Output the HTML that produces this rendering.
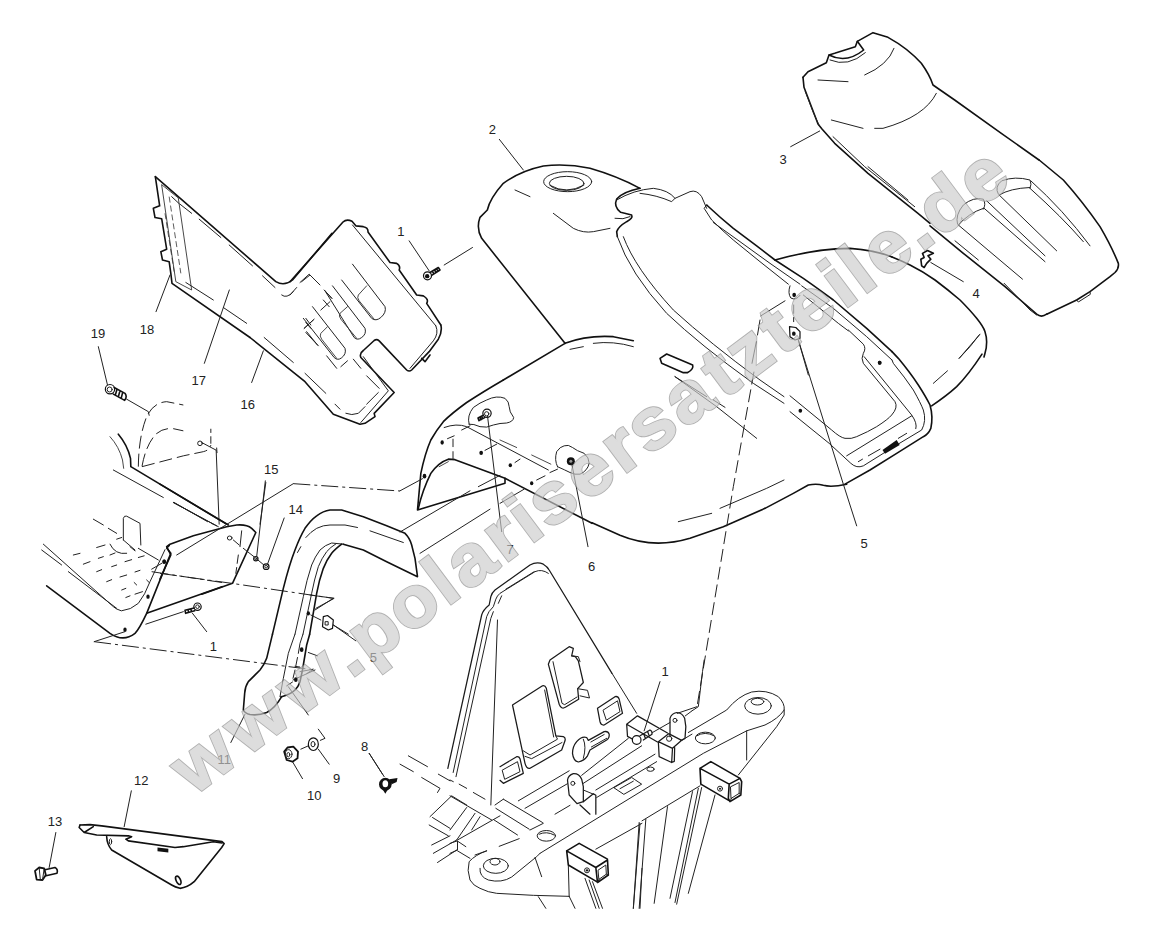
<!DOCTYPE html>
<html><head><meta charset="utf-8"><title>Polaris parts diagram</title>
<style>
html,body{margin:0;padding:0;background:#fff;}
svg{display:block}
.wm{font-family:"Liberation Sans",sans-serif;font-weight:bold;font-size:72px;}
.lb{font-family:"Liberation Sans",sans-serif;font-size:13px;fill:#222;stroke:none}
.k{fill:none;stroke:#111;stroke-width:1.6;stroke-linecap:round;stroke-linejoin:round;vector-effect:non-scaling-stroke}
.n{fill:none;stroke:#222;stroke-width:1;stroke-linecap:round;stroke-linejoin:round;vector-effect:non-scaling-stroke}
.m{fill:none;stroke:#1a1a1a;stroke-width:1.25;stroke-linecap:round;stroke-linejoin:round;vector-effect:non-scaling-stroke}
.t{fill:none;stroke:#333;stroke-width:0.9;stroke-linecap:round;stroke-linejoin:round;vector-effect:non-scaling-stroke}
.d{fill:none;stroke:#222;stroke-width:1;stroke-dasharray:13 5;vector-effect:non-scaling-stroke}
.dd{fill:none;stroke:#222;stroke-width:1;stroke-dasharray:17 4 3 4;vector-effect:non-scaling-stroke}
.ds{fill:none;stroke:#333;stroke-width:0.8;stroke-dasharray:6 3;vector-effect:non-scaling-stroke}
.f{fill:#111;stroke:none}
.w{fill:#fff;stroke:#111;stroke-width:1.2;stroke-linejoin:round;vector-effect:non-scaling-stroke}
</style></head>
<body>
<svg width="1152" height="930" viewBox="0 0 1152 930">
<rect width="1152" height="930" fill="#fff"/>
<!--PARTS-->
<!--A panel 16/17/18 : 6x @140,165-->
<g transform="translate(140 165) scale(0.166667)">
<path class="k" d="M92,70 L118,245 L80,260 L90,315 L130,322 L160,505 L125,520 L135,570 L175,580 L185,650 L192,710 L660,1035"/>
<path class="k" d="M92,70 L815,700 Q865,730 915,690 L1152,410"/>
<path class="t" d="M130,120 L215,700 L310,750 L230,200 Z"/>
<path class="ds" d="M175,190 L245,650"/>
<path class="ds" d="M150,290 L205,640"/>
<path class="n" d="M190,190 L235,232 M240,235 L310,290 M355,325 L485,435 M535,480 L675,605 M735,665 L810,735 M850,780 Q880,805 920,760 M960,705 L1015,655 L1075,715 M1105,750 L1152,800"/>
<path class="n" d="M275,705 L440,810 M500,855 L640,950 M180,660 L96,880 M536,750 L386,1190"/>
</g>

<!--A2 panel right part : 6x @290,200-->
<g transform="translate(290 200) scale(0.166667)">
<path class="k" d="M0,490 L318,132 Q340,112 372,128 L395,155 L440,160 Q470,165 468,192 L600,375 L640,380 Q665,395 655,420 L760,570 L800,575 Q835,595 820,620 L905,750"/>
<path class="n" d="M375,150 L875,755"/>
<path class="n" d="M375,385 L570,640 Q580,675 545,705 Q515,730 490,710 L310,480"/>
<path class="t" d="M460,515 L410,570 Q400,585 415,605 L505,715"/>
<path class="n" d="M255,515 L450,770 Q460,805 430,825 Q405,845 385,825 L210,545"/>
<path class="t" d="M345,640 L300,680 Q290,695 305,715 L400,830"/>
<path class="n" d="M0,570 L40,525 M70,490 L120,450 L180,510 M210,545 L250,590 M185,660 L240,610 M200,600 L235,640 M85,770 L140,720 M95,735 L125,770 M100,790 L165,870"/>
<!-- screw 1 -->
<circle class="w" cx="825" cy="455" r="24"/><circle class="f" cx="823" cy="457" r="13"/>
<path class="k" d="M840,435 L890,405 L900,420 L850,452 M855,428 L863,443 M868,420 L876,435 M880,413 L888,428"/>
<path class="n" d="M715,245 L835,425 M925,390 L1095,285"/>
</g>
<!--A3 panel bottom : 6x @250,300-->
<g transform="translate(250 300) scale(0.166667)">
<path class="k" d="M0,225 L330,490 L500,685 L660,745 L690,740 L750,700 L745,680 L865,555 L665,345 Q655,320 680,303 L745,243 Q760,232 775,245 L940,420 Q955,432 970,420 L1075,310 L1130,235 Q1155,190 1145,150"/>
<path class="n" d="M1115,155 Q1135,200 1100,245 L960,410 M680,340 L830,545 L665,735"/>
<path class="k" d="M1030,350 L1050,370 L1080,330"/>
<path class="n" d="M375,40 L570,290 Q580,325 548,348 Q525,365 505,345 L320,110"/>
<path class="t" d="M465,160 L425,200 Q415,215 430,235 L520,350"/>
<path class="n" d="M335,195 L410,275 M460,335 L520,410 M545,400 L585,365 M620,355 L665,410 M700,455 L775,530 M770,555 L700,625 M690,640 L650,680 Q610,695 575,680 M510,625 L540,655 M85,225 L260,375 M330,440 L455,560 M325,170 L385,115 M335,110 L365,150"/>
<path class="n" d="M80,305 L10,495"/>
</g>
<!--B part 2 top : 3x @400,100-->
<g transform="translate(400 100) scale(0.333333)">
<path class="k" d="M495,730 L245,415 Q228,385 240,352 L262,330 Q270,295 310,250 Q360,213 430,198 Q500,190 570,205 Q650,228 720,265"/>
<path class="k" d="M720,265 Q670,275 650,297 Q640,320 662,337 L695,345 Q700,355 680,365 Q655,380 650,395 L652,410"/>
<path class="n" d="M650,300 Q700,270 760,265 Q805,270 825,295 L870,275 Q890,268 905,290 L920,325"/>
<path class="n" d="M720,280 Q770,285 815,305 L825,295"/>
<ellipse class="n" cx="503" cy="245" rx="72" ry="30"/>
<ellipse class="n" cx="500" cy="250" rx="52" ry="21"/>
<path class="n" d="M450,256 Q500,285 552,255"/>
<path class="n" d="M345,270 L390,290 M460,340 L520,385 Q550,400 580,395 L630,385 M645,355 Q670,360 690,350"/>
<path class="n" d="M652,410 Q690,520 800,640 Q900,735 1060,850 L1152,910"/>
<path class="n" d="M670,410 Q705,505 820,630 Q930,730 1080,840 L1152,890"/>
<path class="k" d="M495,730 Q560,705 640,710 L700,722"/>
<path class="n" d="M510,748 L550,740 M580,730 Q640,722 700,740"/>
<path class="k" d="M780,775 L800,762 L878,795 Q882,808 862,818 L850,818 L785,790 Z"/>
<path class="n" d="M825,830 L920,890 M940,900 L975,922"/>
<path class="n" d="M298,118 L370,210"/>
</g>
<!--C1 hood front-left : 6x @400,380-->
<g transform="translate(400 380) scale(0.166667)">
<path class="k" d="M620,0 Q500,70 400,135 Q310,200 260,250 Q215,305 185,360 Q150,440 125,560 L105,780 L630,620 L630,590"/>
<path class="k" d="M110,770 Q135,660 185,560 Q230,495 290,475 L330,478 L630,590 L1152,860"/>
<path class="n" d="M265,285 Q340,258 400,280 L890,540"/>
<path class="t" d="M600,360 L700,405 M790,450 L905,505 M235,520 L290,490"/>
<path class="n" d="M415,265 Q400,215 440,165 Q480,135 520,120 Q580,90 630,110 Q655,130 655,160 Q655,190 682,225 Q680,250 640,258 Q600,258 560,270 Q520,290 480,280 Q440,262 415,265 Z"/>
<circle class="w" cx="522" cy="200" r="25"/><circle class="n" cx="520" cy="203" r="13"/>
<path class="k" d="M500,212 L468,228 L474,244 L508,226 M480,224 L486,238 M490,218 L496,232"/>
<path class="n" d="M945,520 Q925,480 940,430 Q960,400 985,395 Q1010,385 1035,405 Q1060,425 1105,440 Q1135,465 1135,500 Q1125,545 1080,565 Q1050,570 1020,555 Q990,540 945,520 Z"/>
<circle class="f" cx="1025" cy="487" r="24"/><circle cx="1025" cy="487" r="9" fill="#999"/>
<ellipse class="f" cx="253" cy="375" rx="10" ry="13"/><ellipse class="f" cx="487" cy="437" rx="11" ry="13"/><ellipse class="f" cx="662" cy="512" rx="10" ry="12"/><ellipse class="f" cx="790" cy="620" rx="10" ry="12"/><ellipse class="f" cx="147" cy="577" rx="11" ry="14"/>
<path class="n" d="M285,352 L325,335 M370,300 L420,275 M510,422 L580,385 M690,495 L720,475 M820,600 L870,575 M900,555 L945,535 M318,355 L318,400 M318,430 L318,475"/>
<path class="n" d="M525,215 L610,910 M1030,500 L1128,1000"/>
<path class="n" d="M135,592 L0,665 M600,572 L470,640 M420,665 L0,912 M745,655 L600,740 M540,775 L120,1040"/>
</g>
<!--C2 hood front rest : 3x @400,300-->
<g transform="translate(400 300) scale(0.333333)">
<path class="k" d="M495,130 L310,240"/>
<path class="k" d="M576,668 L660,706 Q760,748 870,715 L970,680 L1095,625"/>
<path class="n" d="M825,230 L950,320 L1070,415 M835,665 L935,640 M960,625 L1100,565 L1152,540"/>
<path class="d" d="M1062,215 L1000,560 L891,1220"/><path class="n" d="M891,1220 L832,1240"/>
</g>
<!--D1 seat top : 3x @768,0-->
<g transform="translate(768 0) scale(0.333333)">
<path class="k" d="M105,232 L120,215 L175,188 L183,165 L200,160 L262,140 L268,124 L315,98 L360,112 Q420,145 460,190 Q485,225 495,255 L560,300 L700,400 L813,480"/>
<path class="k" d="M183,165 Q235,192 287,150 L268,124"/>
<path class="n" d="M186,180 Q240,203 292,158"/>
<path class="k" d="M105,232 L108,262 L150,372 L162,387 L200,430 L300,520 L450,640 L486,670"/>
<path class="n" d="M112,275 L135,335 L155,380 M195,410 L290,500 L440,620 M300,500 L420,600"/>
<path class="n" d="M150,240 L240,245 M290,225 Q360,195 378,145 M190,360 L285,385 M320,385 L345,385 Q470,350 505,280"/>
<path class="n" d="M68,440 L155,393"/>
</g>
<!--D2 seat bottom : 6x @930,160-->
<g transform="translate(930 160) scale(0.166667)">
<path class="k" d="M655,0 L800,120 Q920,255 1020,400 Q1090,520 1130,620 Q1135,650 1110,675 L1080,700 L960,790 L880,840 L700,925"/>
<path class="n" d="M880,840 L890,852 L962,806 L960,790"/>
<path class="k" d="M0,395 L200,560 L450,760 L640,925 Q668,948 700,925"/>
<path class="n" d="M150,485 L290,600 M445,740 L600,900 L640,930"/>
<path class="n" d="M165,385 Q150,330 200,270 Q260,220 320,235 Q338,265 320,295 M170,390 Q230,320 320,290"/>
<path class="n" d="M170,390 L555,715 M325,290 L690,610 M340,245 L690,575"/>
<path class="n" d="M410,205 Q385,160 430,125 Q510,95 600,120 Q612,145 600,170 M415,210 Q480,170 600,165"/>
<path class="n" d="M415,210 L760,545 M605,125 Q800,300 960,515 M600,170 Q790,340 920,490"/>
</g>
<!--E1 rear fender left : 6x @700,220-->
<g transform="translate(700 220) scale(0.166667)">
<path class="k" d="M450,240 L620,350 Q720,420 800,480 L1000,650 L1152,790"/>
<path class="n" d="M540,395 Q525,440 545,468 Q575,485 600,452"/>
<ellipse class="f" cx="565" cy="450" rx="11" ry="13"/>
<path class="k" d="M450,240 Q700,170 900,170 Q1050,180 1152,222"/>
<path class="n" d="M610,395 L800,530 L1000,700 L1152,840"/>
<path class="n" d="M620,450 L830,620 L890,665"/>
<ellipse class="f" cx="1078" cy="857" rx="11" ry="12"/>
<path class="n" d="M510,485 L365,575 M360,600 L345,690 M338,730 L312,860 M562,510 L562,560 M562,585 L562,610"/>
<path class="w" d="M537,640 L575,645 L600,670 L600,710 L570,720 L540,700 Z"/>
<ellipse class="f" cx="563" cy="682" rx="11" ry="13"/>
<path class="n" d="M590,720 L650,930"/>
</g>
<!--E2 rear fender bottom : 6x @790,330-->
<g transform="translate(790 330) scale(0.166667)">
<path class="k" d="M612,130 L650,170 Q720,255 770,330 Q815,400 840,450 Q860,520 845,590 Q830,625 800,640 L640,740 L480,840 L330,925"/>
<path class="n" d="M612,180 L620,200 Q690,285 740,360 Q785,440 800,480 Q820,545 790,600 L640,690 L440,815 Q400,832 365,800 L235,680 L0,490"/>
<path class="n" d="M0,395 L250,600 Q300,645 330,650 Q370,655 400,640 Q470,610 520,580 Q590,535 610,510 Q650,465 630,430 L440,200 Q425,170 440,140 Q458,110 440,85 L350,0"/>
<path class="n" d="M445,160 L730,510 Q765,560 755,592 M730,515 L340,755"/>
<path class="n" d="M410,790 L435,775 M470,755 L540,715 M650,650 L700,620"/>
<path class="f" d="M555,720 L640,660 L658,690 L570,742 Z"/>
<ellipse class="f" cx="538" cy="197" rx="11" ry="12"/><ellipse class="f" cx="62" cy="485" rx="11" ry="12"/>
<path class="n" d="M50,60 L320,925"/>
<path class="k" d="M850,455 Q940,395 1000,340 Q1070,270 1152,145"/>
<path class="n" d="M860,320 L945,245 M1015,170 L1080,100 L1135,30"/>
</g>
<!--E3 rear fender top-right : 6x @860,215-->
<g transform="translate(860 215) scale(0.166667)">
<path class="k" d="M192,252 Q250,275 300,300 Q380,340 450,390 Q530,450 600,510 Q660,570 700,620 Q740,670 750,700 Q770,760 750,830 L744,852"/>
<path class="k" d="M370,305 L365,265 L385,255 L375,230 L405,213 L440,230 L408,245 L425,265 L400,290 L385,315 Z"/>
<path class="n" d="M425,285 L620,400 M595,860 L720,715"/>
</g>
<!--E4 fender/hood bottom junction : 6x @690,400-->
<g transform="translate(690 400) scale(0.166667)">
<path class="k" d="M450,650 L620,560 L710,510 Q760,500 800,512 Q850,525 940,505"/>
<path class="n" d="M920,505 L1000,755"/>
</g>
<!--F1 : 6x @80,370-->
<g transform="translate(80 370) scale(0.166667)">
<circle class="w" cx="180" cy="115" r="28"/><circle class="n" cx="178" cy="117" r="15"/>
<path class="k" d="M205,105 L270,140 Q285,160 268,182 L200,145 M222,115 L212,150 M240,125 L230,160 M256,134 L247,170"/>
<path class="n" d="M110,-140 L165,90 M280,175 L410,250 L415,272"/>
<path class="d" d="M350,580 Q352,400 400,280 Q440,195 520,190 L620,210"/>
<path class="d" d="M372,578 Q395,450 455,385 Q500,345 560,352 L620,365"/>
<path class="d" d="M372,580 L620,515 L740,490 Q780,480 785,450"/>
<path class="n" d="M785,355 L785,375 M785,400 L785,440"/>
<circle class="n" cx="720" cy="440" r="14"/>
<path class="n" d="M730,435 L815,480 M820,468 L822,496 M817,482 L835,925"/>
<path class="k" d="M230,385 Q285,450 303,530 L305,580 L880,925"/>
<path class="t" d="M180,400 Q235,460 255,540 L262,590"/>
<path class="n" d="M200,600 L500,765 M560,795 L800,925"/>
<path class="n" d="M1115,675 L1080,925"/>
</g>
<!--F2 : 6x @30,500-->
<g transform="translate(30 500) scale(0.166667)">
<path class="k" d="M100,515 L480,800 Q560,855 630,800 Q655,775 700,680 L820,380 L845,320 L820,288 L836,272"/>
<path class="k" d="M700,680 L1152,520"/>
<path class="n" d="M810,298 L720,490 Q690,570 650,620 Q605,660 548,665 Q515,655 500,640 L80,265"/>
<path class="n" d="M70,300 L190,390 M230,430 L520,650"/>
<path class="n" d="M695,745 L920,670 M975,680 L1060,790 M385,850 L570,790 M860,15 L1120,155"/>
<path class="dd" d="M385,850 L1710,1020"/><path class="n" d="M1710,1020 L1578,1080"/>
<path class="dd" d="M730,430 L1152,495"/>
<circle class="w" cx="1005" cy="640" r="22"/><circle class="n" cx="1005" cy="640" r="11"/>
<path class="k" d="M985,648 L930,662 L934,680 L988,664 M948,658 L952,675 M965,653 L969,670"/>
<ellipse class="f" cx="805" cy="370" rx="11" ry="13"/><ellipse class="f" cx="708" cy="580" rx="10" ry="13"/><ellipse class="f" cx="570" cy="778" rx="10" ry="13"/>
<path class="n" d="M560,240 L560,110 Q565,92 580,97 L660,140 L665,270 M560,240 L630,300"/>
<path class="n" d="M380,115 L440,150 M470,170 L520,200 M650,290 L770,360 M520,235 L550,225"/>
<path class="n" d="M260,330 L300,320 M400,285 L450,270 M320,385 L360,370 M410,350 L440,340 M480,330 L510,318 M400,430 L430,418 M490,400 L520,390 M570,370 L610,358 M650,345 L685,335 M460,490 L490,478 M540,462 L580,450 M630,432 L660,422 M550,540 L575,530 M575,585 L600,575 M630,565 L675,550 M625,495 L640,510 M480,265 Q510,330 580,320 M600,280 L630,305 M730,415 L790,380 M700,480 L715,495"/>
</g>
<!--F3 : 6x @160,440-->
<g transform="translate(160 440) scale(0.166667)">
<path class="k" d="M0,835 L65,690 L40,640 L60,625 L200,575 L400,520 L460,510 Q520,505 550,530 L575,555 L435,860 L250,925"/>
<path class="k" d="M0,265 L410,510"/>
<path class="n" d="M85,375 L285,490 M310,500 L350,520"/>
<path class="n" d="M100,690 L800,262"/>
<path class="dd" d="M800,262 L1440,306"/>
<ellipse class="n" cx="418" cy="588" rx="14" ry="12"/>
<path class="n" d="M440,600 L475,630 M500,650 L570,705 L635,760"/>
<circle class="w" cx="575" cy="712" r="13"/><circle class="n" cx="575" cy="712" r="6"/>
<circle class="w" cx="637" cy="760" r="17"/><circle class="n" cx="637" cy="760" r="8"/>
<path class="n" d="M632,245 L580,700 M745,468 L645,745"/>
<path class="n" d="M490,545 L480,640 M470,690 L463,740 M460,765 L455,800"/>
<path class="dd" d="M0,800 L430,860 L1040,950"/><path class="n" d="M1040,950 L930,1020"/>
<ellipse class="f" cx="25" cy="730" rx="10" ry="13"/>
</g>
<!--F4 fender 11 top : 6x @270,480-->
<g transform="translate(270 480) scale(0.166667)">
<path class="k" d="M15,925 L80,650 Q115,510 150,420 Q180,340 210,290 Q245,240 280,215 Q320,185 360,180 L430,180 L560,220 L700,275 L810,320 Q840,350 850,390 L870,470 L885,580 L700,490 L560,420 L440,385"/>
<path class="n" d="M440,385 L370,378 Q330,390 300,420 Q270,460 250,510 Q220,600 200,700 L150,925"/>
<path class="n" d="M400,380 Q360,405 340,430 Q310,470 290,520 Q265,600 250,680 L198,925"/>
<path class="k" d="M430,385 Q390,415 370,440 Q340,480 320,530 Q295,600 280,680 L238,925"/>
<path class="n" d="M165,435 L185,400 M215,345 Q245,310 280,290 Q320,270 360,270 L450,270 L525,285 M600,305 L800,375"/>
<path class="n" d="M240,690 L385,710 L275,770 M245,810 L305,840 M380,870 L470,925"/>
<ellipse class="f" cx="230" cy="800" rx="10" ry="13"/>
<path class="w" d="M320,820 L345,813 L380,840 L375,890 L350,900 L315,880 Z"/>
<rect class="n" x="333" y="850" width="16" height="20"/>
</g>
<!--F5 fender 11 leg + hardware : 6x @200,620-->
<g transform="translate(200 620) scale(0.166667)">
<path class="k" d="M435,85 L400,230 Q385,270 360,300 L290,370 Q270,400 268,440 L260,540 Q270,560 300,567 Q350,575 400,555 Q450,530 490,460"/>
<path class="n" d="M570,85 L530,200 L500,350 L480,460"/>
<path class="n" d="M618,85 L600,140 L590,200 M585,225 L575,275 M570,300 L558,350"/>
<path class="k" d="M658,85 L640,150 L615,300 L600,370 Q590,400 570,420 Q545,445 485,462"/>
<ellipse class="f" cx="610" cy="178" rx="11" ry="14"/><ellipse class="f" cx="575" cy="358" rx="11" ry="14"/>
<path class="n" d="M650,195 L705,215 M600,310 L680,295 L640,322 M520,395 L555,372 M530,400 L650,570 M570,278 L598,282"/>
<path class="n" d="M800,30 L935,125 M270,565 L185,735"/>
<path class="n" d="M710,655 L750,710 L722,722 M605,775 L650,755 M710,775 L775,865 M555,850 L615,952 M1015,800 L1095,925"/>
<ellipse class="w" cx="680" cy="745" rx="30" ry="38"/><ellipse class="n" cx="678" cy="745" rx="12" ry="16"/>
<path class="w" d="M505,790 L525,765 L560,760 L588,790 L585,830 L555,850 L520,840 Z" style="stroke-width:1.8"/>
<ellipse class="n" cx="532" cy="805" rx="20" ry="27"/><ellipse class="n" cx="530" cy="808" rx="9" ry="13"/>
</g>
<!--G parts 12,13 : 6x @30,775-->
<g transform="translate(30 775) scale(0.166667)">
<path class="k" d="M300,300 L360,298 L430,305 L1152,400 L1165,412 L1150,435 L985,640 Q945,675 900,680 Q870,672 850,660 L490,450 Q462,415 460,370"/>
<path class="k" d="M300,300 L295,315 L325,345 L380,310 M325,345 L400,360 L590,365 L610,370 L575,385 L590,395 L870,435 L920,430 L1100,400 L1152,408"/>
<ellipse class="n" cx="483" cy="400" rx="7" ry="18"/>
<ellipse class="k" cx="890" cy="632" rx="13" ry="27" transform="rotate(-25 890 632)"/>
<path class="f" d="M765,435 L830,443 L830,465 L765,458 Z"/>
<path class="n" d="M608,95 L565,310 M155,345 L115,555"/>
<path class="w" d="M30,575 L55,555 L85,560 L95,600 L75,630 L40,628 Z" style="stroke-width:1.8"/>
<path class="n" d="M55,557 L62,628 M85,562 L75,630"/>
<path class="k" d="M90,568 L150,555 Q170,565 162,590 L96,605"/>
</g>
<!--G2 item 8 : 6x @340,730-->
<g transform="translate(340 730) scale(0.166667)">
<circle class="f" cx="272" cy="325" r="38"/><ellipse cx="272" cy="322" rx="17" ry="21" fill="#fff"/>
<path class="f" d="M295,295 L345,288 L340,312 L310,325 Z M255,355 L285,360 L272,382 Z"/>
<path class="n" d="M175,140 L265,280"/>
</g>
<!--H1 frame top : 6x @420,540-->
<g transform="translate(420 540) scale(0.166667)">
<path class="m" d="M167,1370 L370,450 Q378,420 415,390 L425,340 Q432,315 450,300 L660,150 Q700,128 740,145 Q765,160 775,180 L1152,800"/>
<path class="n" d="M199,1395 L400,460 Q408,430 440,400 L455,355 Q462,335 480,320 L690,190 Q730,172 770,200"/>
<path class="n" d="M216,1420 L425,470 L440,430 M470,380 L490,335 M515,295 L685,190"/>
<path class="n" d="M465,480 L425,1590"/>
</g>
<!--H2 frame middle : 6x @500,660-->
<g transform="translate(500 660) scale(0.166667)">
<path class="n" d="M672,80 L820,320"/>
<path class="m" d="M415,-80 L300,0 L290,25 L355,265 Q368,298 392,284 L472,236 L466,172 L500,135 L470,5 L452,-20 L430,-25 L440,-70 L415,-80"/>
<path class="n" d="M318,10 L372,260 L388,268 L462,222 M466,172 L525,182 L537,228 L480,215 M430,-25 L470,-20 L480,10"/>
<path class="m" d="M75,270 L255,155 Q270,150 278,170 L335,455 L380,460 Q395,465 390,485 L370,540 L180,650 Q160,655 150,620 Z"/>
<path class="n" d="M268,180 L322,462 M140,545 L180,570 L345,475 L335,455 M150,578 L190,592 L372,495"/>
<path class="m" d="M0,640 L100,580 Q115,578 120,592 L140,680 L20,740 L0,722"/>
<path class="n" d="M15,660 L105,610 L120,670 L30,715 Z"/>
<path class="m" d="M585,290 L690,220 Q708,215 715,235 L735,320 L625,390 Q605,392 600,370 Z"/>
<path class="n" d="M620,300 L705,245 L720,310 L640,360 Z"/>
<path class="m" d="M435,560 Q435,520 460,490 Q490,455 520,465 L530,482 L625,430 Q648,425 655,445 Q658,468 640,480 L540,540 L525,575 Q505,605 470,612 Q440,605 435,560 Z"/>
<path class="n" d="M545,492 L625,447 M548,522 L640,470 M500,475 Q520,520 500,590"/>
<path class="m" d="M760,385 L825,335 L1005,438 M760,385 L765,458 L805,480 M760,385 L945,492"/>
<circle class="w" cx="820" cy="480" r="26"/>
<path class="m" d="M840,455 L900,420 Q915,425 912,445 L860,480 M862,442 L872,470 M885,428 L895,455"/>
<path class="n" d="M960,130 L865,425 M915,435 L1020,375"/>
<path class="m" d="M1020,460 L1020,350 Q1030,320 1060,315 Q1095,318 1108,350 L1115,400 L1110,470 L1088,482"/>
<circle class="n" cx="1050" cy="362" r="12"/>
<path class="m" d="M950,490 L1012,442 L1090,482 L1035,530 Z M950,490 L955,580 L1030,615 L1035,530 M1048,525 L1046,608 L1030,615"/>
<circle class="n" cx="1015" cy="472" r="16"/>
<path class="m" d="M415,810 L405,720 Q410,692 440,682 Q475,680 490,715 L500,760 L500,850 L462,862 Z"/>
<circle class="n" cx="437" cy="740" r="12"/>
<path class="m" d="M500,850 L560,802 L575,812 L575,925 M480,870 L540,925"/>
<path class="n" d="M500,780 L560,805"/>
<path class="n" d="M110,845 L415,665 M490,692 L770,470 M150,890 L405,742 M500,740 L850,515 M330,925 L420,872 M575,780 L930,565 M580,825 L940,610 M1090,482 L1152,445 M1112,335 L1152,305"/>
<ellipse class="n" cx="903" cy="655" rx="22" ry="13"/>
<path class="n" d="M685,765 L790,705 L850,745 L745,805 Z M720,772 L800,727"/>

</g>
<!--H3 frame right : 6x @610,660-->
<g transform="translate(610 660) scale(0.166667)">
<path class="n" d="M470,435 L700,300 Q770,215 850,192 Q940,175 1010,220 Q1050,260 1045,300 Q1010,352 930,390 L820,425 L560,560 L-420,1160"/>
<path class="n" d="M1045,300 L1045,330 L1000,400 L770,690 M820,425 L820,600 M192,965 L540,755"/>
<ellipse class="n" cx="888" cy="275" rx="80" ry="50"/><ellipse class="n" cx="885" cy="250" rx="38" ry="20"/>
<ellipse class="n" cx="572" cy="468" rx="60" ry="35"/><path class="n" d="M520,455 Q570,425 625,455"/>
<path class="n" d="M565,0 L555,70 L530,280 L492,305"/>
<path class="k" d="M715,745 L780,710 L790,730 L785,810 L720,850 L710,830 Z M540,650 L605,610 L780,710 M540,650 L715,745 M540,650 L545,745 L712,842"/>
<path class="n" d="M725,760 L775,735 L775,800 L728,830 Z M775,800 L785,810 M728,830 L720,850"/>
<circle class="n" cx="660" cy="772" r="15"/><circle class="f" cx="660" cy="772" r="6"/>
</g>
<!--H4 legs right : 6x @610,775-->
<g transform="translate(610 775) scale(0.166667)">
<path class="n" d="M175,285 L140,800 M215,265 L175,800 M345,190 L265,770 M495,100 L360,740 M530,80 L390,765 M550,75 L400,775 M630,120 L470,710"/>
</g>
<!--H5 frame bottom-left : 6x @450,775-->
<g transform="translate(450 775) scale(0.166667)">
<path class="n" d="M220,455 Q150,480 115,520 Q100,570 120,630 Q140,665 180,680 Q230,705 280,710 L500,722 L715,728"/>
<path class="n" d="M180,560 Q175,610 230,630 Q310,650 370,612 L520,490 L540,470"/>
<ellipse class="n" cx="275" cy="545" rx="75" ry="45"/><ellipse class="n" cx="270" cy="520" rx="30" ry="20"/>
<path class="n" d="M295,428 L415,382 M480,330 L560,290 M220,455 L150,480"/>
<ellipse class="n" cx="578" cy="365" rx="55" ry="32"/><path class="n" d="M535,355 Q580,335 625,360"/>
<path class="n" d="M510,495 L550,610 M530,730 L575,800 M715,728 L750,800 M875,445 L1152,290 M710,540 L715,728"/>
<path class="k" d="M700,455 L775,410 L945,505 M700,455 L875,555 L945,510 L950,600 L885,645 L875,555 M700,455 L710,540 L880,640"/>
<path class="n" d="M890,570 L935,540 L938,595 L895,625 Z M938,595 L950,600 M895,625 L885,645"/>
<circle class="n" cx="822" cy="572" r="15"/><circle class="f" cx="822" cy="572" r="7"/>
<path class="n" d="M810,620 L875,800 M835,630 L895,800 M855,640 L915,800 M1140,290 L1100,800 M1152,560 L1140,800"/>
<path class="n" d="M320,145 L555,285 M275,200 L475,325 M265,270 L405,360 M270,180 L320,145"/>
<path class="n" d="M0,125 L250,270 M100,195 L0,330 M150,230 L40,390 M180,250 L130,330 M45,390 L300,245 M0,410 L45,395 L45,450 L0,470 M45,455 L120,500 M50,400 L95,430"/>
<path class="n" d="M55,55 L100,80 M140,105 L210,145 M0,30 L20,40"/>
</g>
<!--H6 frame left : 6x @340,730-->
<g transform="translate(340 730) scale(0.166667)">
<path class="n" d="M410,155 L525,220 M590,265 L660,305 M360,205 L440,250 M490,285 L600,350 L585,375"/>
<path class="n" d="M540,520 L670,395 L760,450 M555,525 L660,590 M535,570 L650,635 M550,690 L660,635 M560,740 L700,660 M585,795 L700,720"/>
</g>
<!--B2 hood right edge : 6x @640,160-->
<g transform="translate(640 160) scale(0.166667)">
<path class="k" d="M400,270 Q480,345 560,410 L700,515 L810,600"/>
<path class="n" d="M400,270 L385,290 L430,360 Q490,420 560,480 L720,610 L890,745"/>
<path class="n" d="M440,375 L600,490 L780,620 L960,745"/>
</g>
<!--LABELS-->
<g class="lb" text-anchor="middle">
<text x="492.3" y="134.0">2</text>
<text x="783.0" y="164.0">3</text>
<text x="400.8" y="235.5">1</text>
<text x="976.2" y="298.0">4</text>
<text x="147.0" y="334.0">18</text>
<text x="198.7" y="384.7">17</text>
<text x="247.7" y="408.7">16</text>
<text x="98.0" y="338.2">19</text>
<text x="271.3" y="473.9">15</text>
<text x="295.8" y="513.9">14</text>
<text x="510.0" y="553.9">7</text>
<text x="591.7" y="571.4">6</text>
<text x="864.2" y="547.7">5</text>
<text x="213.3" y="650.5">1</text>
<text x="373.3" y="661.7">5</text>
<text x="665.0" y="676.4">1</text>
<text x="224.2" y="763.9">11</text>
<text x="336.5" y="782.7">9</text>
<text x="314.2" y="799.9">10</text>
<text x="364.7" y="751.0">8</text>
<text x="141.3" y="784.7">12</text>
<text x="55.0" y="826.4">13</text>
</g>
<!--WATERMARK-->
<g transform="translate(190.9 798.5) rotate(-36.8)" opacity="0.65">
<text class="wm" transform="scale(1.050 1)" x="3.5 66.4 129.4 190.3 212.6 258.3 304.6 328.8 372.9 403.6 425.9 469.8 513.9 544.0 587.8 634.0 662.2 702.5 732.6 776.9 799.7 824.0 868.3 890.6 938.3" y="0" fill="none" stroke="#8a8a8a" stroke-width="2.8" stroke-linejoin="miter">www.polarisersatzteile.de</text>
<text class="wm" transform="scale(1.050 1)" x="3.5 66.4 129.4 190.3 212.6 258.3 304.6 328.8 372.9 403.6 425.9 469.8 513.9 544.0 587.8 634.0 662.2 702.5 732.6 776.9 799.7 824.0 868.3 890.6 938.3" y="0" fill="#cccccc" stroke="#cccccc" stroke-width="1.0" stroke-linejoin="miter">www.polarisersatzteile.de</text>
</g>
</svg>
</body></html>
